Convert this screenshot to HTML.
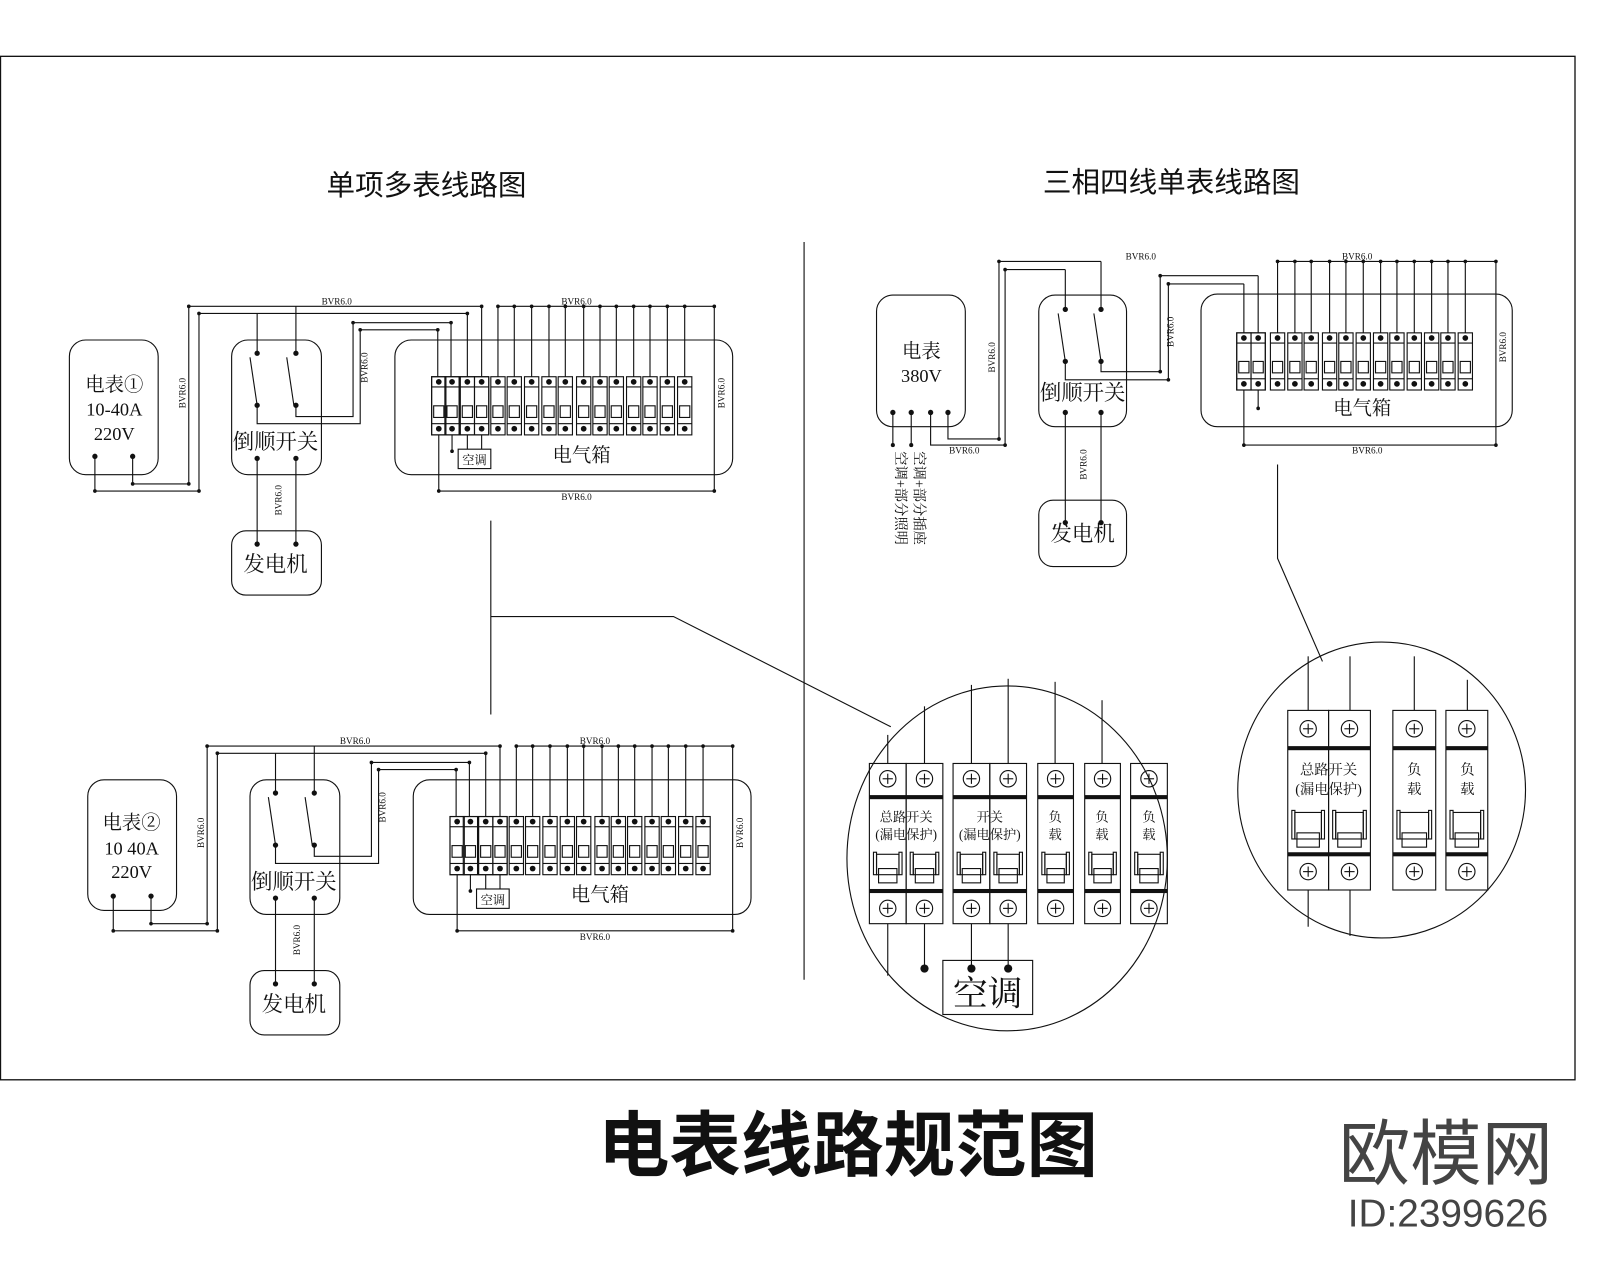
<!DOCTYPE html>
<html><head><meta charset="utf-8">
<style>
html,body{margin:0;padding:0;background:#fff;width:1600px;height:1280px;overflow:hidden}
svg{display:block}
.s{font-family:"Liberation Serif","Noto Serif CJK SC",serif;fill:#111}
.t{font-family:"Liberation Sans","Noto Sans CJK SC",sans-serif;fill:#111}
</style></head><body>
<svg id="cv" width="1600" height="1280" viewBox="0 0 1568 1254" xmlns="http://www.w3.org/2000/svg" fill="none" stroke="#111" stroke-width="1.1">
</svg>
<script>
var o=[];
function L(p){o.push('<polyline points="'+p+'"/>');}
function R(x,y,w,h,r){o.push('<rect x="'+x+'" y="'+y+'" width="'+w+'" height="'+h+'" rx="'+(r||0)+'"/>');}
function D(x,y,r){o.push('<circle cx="'+x+'" cy="'+y+'" r="'+(r||2.6)+'" fill="#111" stroke="none"/>');}
function T(x,y,s,txt,cls,extra){o.push('<text x="'+x+'" y="'+y+'" font-size="'+s+'" text-anchor="middle" stroke="none" class="'+(cls||'s')+'" '+(extra||'')+'>'+txt+'</text>');}
function VT(x,y,s,txt){T(x,y,s,txt,'s','transform="rotate(-90 '+x+' '+y+')"');}
function SB(x,yt,h){
 R(x-7,yt,14,h);L((x-7)+','+(yt+10)+' '+(x+7)+','+(yt+10));L((x-7)+','+(yt+h-11)+' '+(x+7)+','+(yt+h-11));
 R(x-5,yt+h*0.5,10,h*0.2);D(x,yt+5,2.8);D(x,yt+h-6,2.8);}
o.push('<rect x="0.5" y="55" width="1543" height="1003" stroke-width="1.3"/>');
L('788,237 788,960');
T(418,191,28,'单项多表线路图','t');
T(1148,188,28,'三相四线单表线路图','t');
T(831,1147,70,'电表线路规范图','t','font-weight="bold"');
o.push('<text x="1417" y="1155" font-size="70" text-anchor="middle" stroke="none" class="t" style="fill:#444">欧模网</text>');
o.push('<text x="1419" y="1202" font-size="38" text-anchor="middle" stroke="none" class="t" style="fill:#444">ID:2399626</text>');
var g1s=o.length;
R(227,333,88,132,16);R(387,333,331,132,16);R(227,520,88,63,14);
[[252,346],[290,346],[252,397],[290,397],[252,449],[290,449],[252,533],[290,533]].forEach(function(p){D(p[0],p[1]);});
L('245,350 252,397');L('281,350 288,397');
T(270,440,21,'倒顺开关');T(270,560,21,'发电机');T(570,452,19,'电气箱');
L('185,300 472,300');L('195,307 458,307');L('346,316 442,316');L('353,323 429,323');
L('185,300 185,474');L('195,307 195,481');
L('93,447 93,481 195,481');L('130,447 130,474 185,474');
L('252,346 252,307');L('290,346 290,300');
L('290,397 290,408 346,408 346,316');L('252,397 252,415 353,415 353,323');
L('252,449 252,533');L('290,449 290,533');
var bx=[430,443,458,472,488,504,521,538,554,572,588,604,621,637,654,671];
bx.forEach(function(x){SB(x,369,57);});
R(423,369,27,57);R(451,369,28,57);
L('429,323 429,369');L('442,316 442,369');L('458,307 458,369');L('472,300 472,369');
L('488,300 700,300');bx.slice(4).forEach(function(x){L(x+',300 '+x+',369');D(x,300,1.8);});
L('700,300 700,481');L('430,426 430,481 700,481');L('443,426 443,442');D(443,442,1.8);
R(449,440,32,19);T(465,455,12,'空调');L('458,426 458,440');L('472,426 472,440');
[[185,300],[195,307],[346,316],[353,323],[185,474],[195,481],[130,474],[93,481],[700,300],[700,481],[430,481],[472,300],[458,307],[442,316],[429,323]].forEach(function(p){D(p[0],p[1],1.8);});
T(330,298,9,'BVR6.0');T(565,298,9,'BVR6.0');T(565,490,9,'BVR6.0');
VT(182,385,9,'BVR6.0');VT(360,360,9,'BVR6.0');VT(276,490,9,'BVR6.0');VT(710,385,9,'BVR6.0');
var g1=o.slice(g1s).join('');
o.push('<g transform="translate(18,431)">'+g1+'</g>');
R(68,333,87,132,16);D(93,447);D(130,447);T(112,383,19,'电表①');T(112,407,18,'10-40A');T(112,431,18,'220V');
R(86,764,87,128,16);D(111,878);D(148,878);T(129,812,19,'电表②');T(129,837,18,'10 40A');T(129,860,18,'220V');
L('481,510 481,700');L('481,604 660,604 873,712');
R(859,289,87,129,16);T(903,350,19,'电表');T(903,374,18,'380V');
[875,893,912,929].forEach(function(x){D(x,404);});
L('875,404 875,436');L('893,404 893,436');D(875,436,2);D(893,436,2);
o.push('<text x="878" y="442" font-size="14" class="s" stroke="none" transform="rotate(90 878 442)">空调+部分照明</text>');
o.push('<text x="896" y="442" font-size="14" class="s" stroke="none" transform="rotate(90 896 442)">空调+部分插座</text>');
L('912,404 912,436 985,436 985,264 1044,264');L('929,404 929,430 979,430 979,256 1079,256');
R(1018,289,86,129,16);
[[1044,303],[1079,303],[1044,354],[1079,354],[1044,404],[1079,404],[1044,512],[1079,512]].forEach(function(p){D(p[0],p[1]);});
L('1037,307 1044,354');L('1072,307 1079,354');
L('1044,264 1044,303');L('1079,256 1079,303');
L('1079,354 1079,364 1137,364 1137,270 1233,270');L('1044,354 1044,372 1145,372 1145,278 1219,278');
T(1061,392,21,'倒顺开关');
R(1018,490,86,65,14);T(1061,530,21,'发电机');L('1044,404 1044,512');L('1079,404 1079,512');
R(1177,288,305,130,16);T(1335,406,19,'电气箱');
var cx=[1219,1233,1252,1269,1285,1303,1319,1336,1353,1369,1386,1403,1419,1436];
cx.forEach(function(x){SB(x,326,56);});R(1212,326,28,56);
L('1219,278 1219,326');L('1233,270 1233,326');
L('1252,256 1466,256');cx.slice(2).forEach(function(x){L(x+',256 '+x+',326');D(x,256,1.8);});
L('1466,256 1466,436');L('1219,382 1219,436 1466,436');L('1233,382 1233,400');D(1233,400,1.8);
[[979,256],[985,264],[979,430],[985,436],[1137,270],[1145,278],[1137,364],[1145,372],[1466,256],[1466,436],[1219,436]].forEach(function(p){D(p[0],p[1],1.8);});
T(1118,254,9,'BVR6.0');T(1330,254,9,'BVR6.0');T(945,444,9,'BVR6.0');T(1340,444,9,'BVR6.0');
VT(975,350,9,'BVR6.0');VT(1150,325,9,'BVR6.0');VT(1065,455,9,'BVR6.0');VT(1476,340,9,'BVR6.0');
L('1252,455 1252,547 1296,648');
o.push('<ellipse cx="987" cy="841" rx="157" ry="169"/>');
o.push('<ellipse cx="1354" cy="774" rx="141" ry="145"/>');
function BigPole(x0,x1,yt,yb,tT,bT,b1,b2,tg1,tg2){
 R(x0,yt,x1-x0,yb-yt);var c=(x0+x1)/2;
 [tT,bT].forEach(function(y){o.push('<circle cx="'+c+'" cy="'+y+'" r="8"/>');L((c-5)+','+y+' '+(c+5)+','+y);L(c+','+(y-5)+' '+c+','+(y+5));});
 o.push('<rect x="'+x0+'" y="'+b1+'" width="'+(x1-x0)+'" height="4" fill="#111" stroke="none"/>');
 o.push('<rect x="'+x0+'" y="'+b2+'" width="'+(x1-x0)+'" height="4" fill="#111" stroke="none"/>');
 R(x0+4,tg1,3,tg2-tg1-8);R(x1-7,tg1,3,tg2-tg1-8);R(x0+7,tg1+2,x1-x0-14,tg2-tg1-10);R(x0+9,tg2-14,x1-x0-18,14);
 return c;}
var lp=[[852,888],[888,924],[934,970],[970,1006],[1017,1052],[1063,1098],[1108,1144]];
lp.forEach(function(p){BigPole(p[0],p[1],748,905,763,890,779,871,835,865);});
T(888,805,13,'总路开关');T(888,822,13,'(漏电保护)');T(970,805,13,'开关');T(970,822,13,'(漏电保护)');
[1034,1080,1126].forEach(function(x){T(x,805,13,'负');T(x,822,13,'载');});
L('870,720 870,748');L('906,692 906,748');L('952,671 952,748');L('988,665 988,748');L('1034,668 1034,748');L('1080,686 1080,748');
L('870,905 870,956');L('906,905 906,949');L('952,905 952,949');L('988,905 988,949');
D(906,949,4);D(952,949,4);D(988,949,4);
R(924,941,88,53);T(968,985,34,'空调');
var rp=[[1262,1302],[1302,1343],[1365,1407],[1417,1458]];
rp.forEach(function(p){BigPole(p[0],p[1],696,872,714,854,731,835,794,830);});
T(1302,759,14,'总路开关');T(1302,778,14,'(漏电保护)');
[1386,1438].forEach(function(x){T(x,759,14,'负');T(x,778,14,'载');});
L('1282,643 1282,696');L('1323,643 1323,696');L('1386,643 1386,696');L('1438,666 1438,696');
L('1282,872 1282,908');L('1323,872 1323,917');
document.getElementById('cv').innerHTML=o.join('');
</script>
</body></html>
